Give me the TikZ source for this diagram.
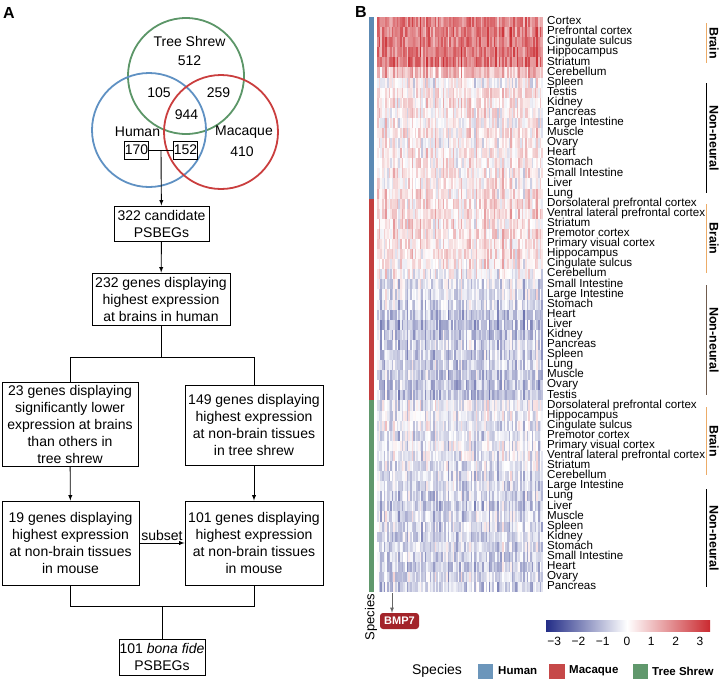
\documentclass[tikz,border=0pt]{standalone}
\usepackage{fontspec}
\setmainfont{Liberation Sans}
\usetikzlibrary{arrows}

\definecolor{vblue}{RGB}{95,145,195}
\definecolor{vred}{RGB}{202,62,62}
\definecolor{vgreen}{RGB}{92,150,104}
\definecolor{hsblue}{RGB}{92,138,180}
\definecolor{mqred}{RGB}{195,62,62}
\definecolor{tsgreen}{RGB}{96,152,108}
\definecolor{cold}{RGB}{35,45,135}
\definecolor{hot}{RGB}{202,42,48}
\definecolor{brainc}{RGB}{236,172,104}
\definecolor{nnbrown}{RGB}{112,92,78}
\definecolor{bmpred}{RGB}{163,36,42}

\begin{document}
\begin{tikzpicture}[x=1pt,y=-1pt,
  box/.style={draw,line width=0.9pt,align=center,inner sep=0pt,font=\fontsize{14}{17}\selectfont},
  num/.style={font=\fontsize{14}{16}\selectfont},
  numbox/.style={num,draw,line width=0.8pt,inner xsep=0.5pt,inner ysep=4pt},
  flow/.style={line width=0.9pt,-latex},
  rowlab/.style={anchor=mid west,inner sep=0pt,text height=6.5pt,text depth=1.5pt,font=\fontsize{11.6}{10}\selectfont},
  grp/.style={rotate=-90,font=\bfseries\fontsize{12.5}{14}\selectfont},
  legtxt/.style={anchor=west,inner sep=0pt,font=\bfseries\fontsize{11.5}{13}\selectfont}]
\useasboundingbox (0,0) rectangle (720,681);

% panel A: venn
\node[font=\bfseries\fontsize{16}{18}\selectfont] (pa) at (9,13) {A};
\draw[vgreen,line width=1.8pt] (186,76) circle (58);
\draw[vblue,line width=1.8pt] (149,130) circle (57);
\draw[vred,line width=1.8pt] (221,132) circle (57);
\node[num] (tsh) at (189.5,41) {Tree Shrew};
\node[num] (n512) at (189.5,60.5) {512};
\node[num] (n105) at (159,92.5) {105};
\node[num] (n259) at (218.5,92.5) {259};
\node[num] (n944) at (186.5,114.5) {944};
\node[num] (hum) at (137.5,132) {Human};
\node[num] (mac) at (244,132) {Macaque};
\node[num] (n410) at (242,152) {410};
\node[numbox] (n170) at (136.5,150) {170};
\node[numbox] (n152) at (185.5,150) {152};
\coordinate (vsplit) at (161,150);

% panel A: flow
\node[box,minimum width=95pt,minimum height=35pt] (cand) at (161.5,223.5) {322 candidate\\PSBEGs};
\node[box,minimum width=138pt,minimum height=52pt] (hb) at (161,299) {232 genes displaying\\highest expression\\at brains in human};
\node[box,minimum width=136pt,minimum height=84pt] (low) at (70,424) {23 genes displaying\\significantly lower\\expression at brains\\than others in\\tree shrew};
\node[box,minimum width=138pt,minimum height=80pt] (nb) at (254,425) {149 genes displaying\\highest expression\\at non-brain tissues\\in tree shrew};
\node[box,minimum width=137pt,minimum height=84pt] (mlow) at (70.5,543) {19 genes displaying\\highest expression\\at non-brain tissues\\in mouse};
\node[box,minimum width=138pt,minimum height=84pt] (mnb) at (254,543) {101 genes displaying\\highest expression\\at non-brain tissues\\in mouse};
\node[box,minimum width=86pt,minimum height=36pt] (fide) at (162,657) {101 \textit{bona fide}\\PSBEGs};
\coordinate (fork) at (161,357);
\coordinate (join) at (162,606);

\draw[line width=0.9pt] (n170) -- (n152);
\draw[flow] (vsplit) -- (cand);
\draw[flow] (cand) -- (hb);
\draw[line width=0.9pt] (hb) -- (fork);
\draw[line width=0.9pt] (fork) -| (low.north);
\draw[line width=0.9pt] (fork) -| (nb.north);
\draw[flow] (low) -- (mlow);
\draw[flow] (nb.south) -- (mnb.north);
\draw[flow] (mlow) -- node[above,inner sep=1.5pt,num] (sub) {subset} (mnb);
\draw[line width=0.9pt] (mlow.south) -- (mlow.south |- join) -- (mnb.south |- join) -- (mnb.south);
\draw[line width=0.9pt] (join) -- (fide);

% panel B: heatmap
\node[font=\bfseries\fontsize{16}{18}\selectfont] (pb) at (361,12) {B};
\pgfmathsetseed{11}
\foreach \m [count=\i from 0] in {1.9,2.0,2.0,2.1,2.2,1.0, 0.0,0.5,0.4,0.3,0.1,0.3,0.2,0.3,0.3,0.2,0.2,0.4,
  0.5,0.5,0.4,0.4,0.3,0.4,0.3,0.0, -0.4,-0.5,-0.6,-0.9,-1.0,-0.8,-0.7,-0.8,-0.7,-0.8,-0.9,-0.9,
  -0.2,-0.3,-0.3,-0.4,-0.3,-0.3,-0.4,-0.5, -0.6,-0.7,-0.8,-0.6,-0.6,-0.7,-0.6,-0.7,-0.8,-0.6,-0.7}{
  \foreach \c in {0,...,100}{
    \pgfmathsetmacro\v{\m+0.35*sin(\c*157)+0.25*cos(\c*71)+0.75*rand}
    \pgfmathsetmacro\p{min(100,abs(\v)*30)}
    \ifdim\v pt<0pt \def\hue{cold}\else\def\hue{hot}\fi
    \fill[\hue!\p!white] ({377+\c*1.644},{17+\i*10.09}) rectangle ++(1.7,10.2);
  }
}
\fill[hsblue] (369,17) rectangle (374,198.6);
\fill[mqred] (369,198.6) rectangle (374,400.4);
\fill[tsgreen] (369,400.4) rectangle (374,592);

\foreach \lab [count=\i from 0] in {Cortex,Prefrontal cortex,Cingulate sulcus,Hippocampus,Striatum,Cerebellum,
  Spleen,Testis,Kidney,Pancreas,Large Intestine,Muscle,Ovary,Heart,Stomach,Small Intestine,Liver,Lung,
  Dorsolateral prefrontal cortex,Ventral lateral prefrontal cortex,Striatum,Premotor cortex,Primary visual cortex,
  Hippocampus,Cingulate sulcus,Cerebellum,Small Intestine,Large Intestine,Stomach,Heart,Liver,Kidney,Pancreas,
  Spleen,Lung,Muscle,Ovary,Testis,
  Dorsolateral prefrontal cortex,Hippocampus,Cingulate sulcus,Premotor cortex,Primary visual cortex,
  Ventral lateral prefrontal cortex,Striatum,Cerebellum,Large Intestine,Lung,Liver,Muscle,Spleen,Kidney,
  Stomach,Small Intestine,Heart,Ovary,Pancreas}{
  \node[rowlab] (r\i) at (547,{17+(\i+0.5)*10.09}) {\lab};
}

% tissue groups
\foreach \a/\b/\col/\lab [count=\k] in {23/63/brainc/Brain,83/193/black/Non-neural,204/273/brainc/Brain,
  285/395/nnbrown/Non-neural,407/475/brainc/Brain,489/587/black/Non-neural}{
  \draw[\col,line width=1pt] (706,\a) -- (706,\b);
  \node[grp] (g\k) at (714,{(\a+\b)/2}) {\lab};
}

% species label and gene mark
\node[rotate=90,font=\fontsize{13}{15}\selectfont] (spv) at (371,617) {Species};
\node[fill=bmpred,text=white,rounded corners=3pt,inner sep=0pt,minimum width=39pt,minimum height=16pt,
  font=\bfseries\fontsize{11}{13}\selectfont] (bmp) at (399.5,621) {BMP7};
\coordinate (bmpcol) at (392,593);
\draw[-latex,gray!80!black,line width=0.8pt] (bmpcol) -- (bmpcol |- bmp.north);

% colour key
\shade[left color=cold,right color=white] (546,620) rectangle (627,631);
\shade[left color=white,right color=hot] (627,620) rectangle (710,631);
\foreach \t/\lab in {-3/−3,-2/−2,-1/−1,0/0,1/1,2/2,3/3}{
  \node[font=\fontsize{12}{14}\selectfont] (t\t) at ({627+\t*24.3},641) {\lab};
}

% species legend
\node[font=\fontsize{14}{16}\selectfont] (spk) at (437,671) {Species};
\fill[hsblue!90!white] (478,664) rectangle (493,679);
\node[legtxt] (lhum) at (498,671) {Human};
\fill[mqred!95!white] (549,664) rectangle (565,679);
\node[legtxt] (lmac) at (569,671) {Macaque};
\fill[tsgreen] (633,664) rectangle (648,679);
\node[legtxt] (lts) at (652,671) {Tree Shrew};
\end{tikzpicture}
\end{document}
